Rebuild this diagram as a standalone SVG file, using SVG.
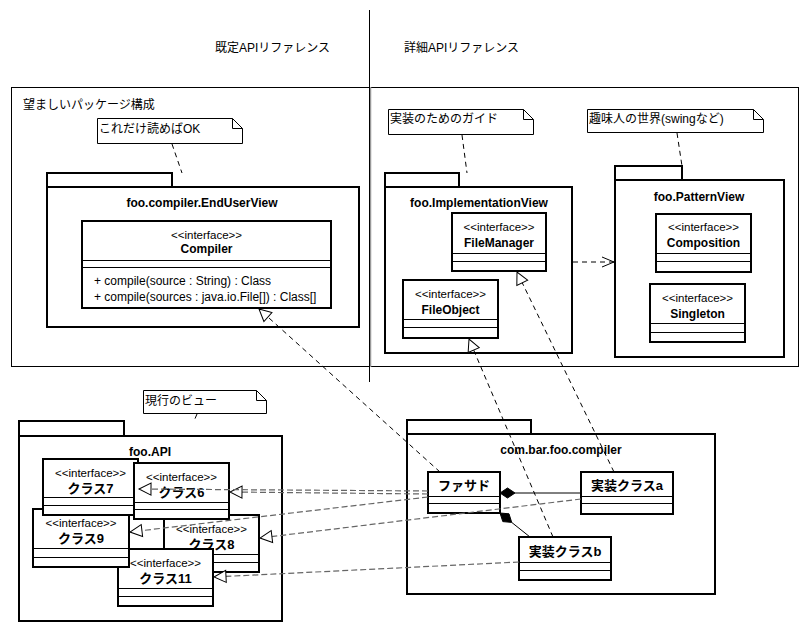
<svg xmlns="http://www.w3.org/2000/svg" width="807" height="632" viewBox="0 0 807 632">
<style>
text{font-family:"Liberation Sans","Noto Sans CJK JP",sans-serif;font-size:12px;fill:#000}
.box{fill:#fff;stroke:#000;stroke-width:2}
.pkg{fill:#fff;stroke:#000;stroke-width:2}
.sep{stroke:#000;stroke-width:1;fill:none}
.note{fill:#fff;stroke:#000;stroke-width:1}
.st{font-size:11.5px;text-anchor:middle}
.nm{font-weight:bold;text-anchor:middle}
.jn{font-weight:bold;font-size:13px;text-anchor:middle}
.dash{fill:none;stroke:#000;stroke-width:1;stroke-dasharray:5 4}
.g{stroke:#666;stroke-width:1.2;stroke-dasharray:6 3}
.solid{fill:none;stroke:#000;stroke-width:1}
</style>
<defs>
<marker id="tri" markerUnits="userSpaceOnUse" markerWidth="16" markerHeight="16" refX="14" refY="8" orient="auto" overflow="visible">
<path d="M2,2 L14,8 L2,14 Z" fill="#fff" stroke="#000" stroke-width="1"/>
</marker>
<marker id="open" markerUnits="userSpaceOnUse" markerWidth="16" markerHeight="16" refX="14" refY="8" orient="auto" overflow="visible">
<path d="M2,3 L14,8 L2,13" fill="none" stroke="#000" stroke-width="1"/>
</marker>
</defs>
<rect width="807" height="632" fill="#fff"/>

<g id="frame">
<rect x="11.5" y="87.5" width="787" height="279" fill="none" stroke="#000" stroke-width="1"/>
<line x1="370.5" y1="87" x2="370.5" y2="367" stroke="#999" stroke-width="1.5"/>
<line x1="369.5" y1="10" x2="369.5" y2="382" stroke="#000" stroke-width="1"/>
<text x="215" y="52">既定APIリファレンス</text>
<text x="404" y="52">詳細APIリファレンス</text>
<text x="23" y="109">望ましいパッケージ構成</text>
</g>

<g id="note-ok">
<path class="note" d="M97.5,118.5 H232.5 L242.5,128.5 V143.5 H97.5 Z"/>
<path class="solid" d="M232.5,118.5 V128.5 H242.5"/>
<text x="99" y="133">これだけ読めばOK</text>
</g>

<g id="pkg-enduser">
<rect class="pkg" x="47" y="173" width="125" height="14"/>
<rect class="pkg" x="47" y="187" width="312" height="140"/>
<text class="nm" x="202" y="207">foo.compiler.EndUserView</text>
</g>

<g id="cls-compiler">
<rect class="box" x="82" y="221" width="249" height="87"/>
<line class="sep" x1="82" y1="260.5" x2="331" y2="260.5"/>
<line class="sep" x1="82" y1="267.5" x2="331" y2="267.5"/>
<text class="st" x="206.5" y="239">&lt;&lt;interface&gt;&gt;</text>
<text class="nm" x="206.5" y="253">Compiler</text>
<text x="94" y="285">+ compile(source : String) : Class</text>
<text x="94" y="301">+ compile(sources : java.io.File[]) : Class[]</text>
</g>

<g id="note-impl">
<path class="note" d="M388.5,109.5 H523.5 L533.5,119.5 V134.5 H388.5 Z"/>
<path class="solid" d="M523.5,109.5 V119.5 H533.5"/>
<text x="390" y="123">実装のためのガイド</text>
</g>

<g id="pkg-impl">
<rect class="pkg" x="385" y="173" width="74" height="14"/>
<rect class="pkg" x="385" y="187" width="187" height="166"/>
<text class="nm" x="479" y="207">foo.ImplementationView</text>
</g>

<g id="cls-filemanager">
<rect class="box" x="452" y="213" width="94" height="58"/>
<line class="sep" x1="452" y1="253.5" x2="546" y2="253.5"/>
<line class="sep" x1="452" y1="261.5" x2="546" y2="261.5"/>
<text class="st" x="499" y="231">&lt;&lt;interface&gt;&gt;</text>
<text class="nm" x="499" y="247">FileManager</text>
</g>

<g id="cls-fileobject">
<rect class="box" x="403" y="280" width="95" height="58"/>
<line class="sep" x1="403" y1="319.5" x2="498" y2="319.5"/>
<line class="sep" x1="403" y1="327.5" x2="498" y2="327.5"/>
<text class="st" x="450.5" y="298">&lt;&lt;interface&gt;&gt;</text>
<text class="nm" x="450.5" y="314">FileObject</text>
</g>

<g id="note-pattern">
<path class="note" d="M587.5,109.5 H753.5 L763.5,119.5 V132.5 H587.5 Z"/>
<path class="solid" d="M753.5,109.5 V119.5 H763.5"/>
<text x="589" y="123">趣味人の世界(swingなど)</text>
</g>

<g id="pkg-pattern">
<rect class="pkg" x="615" y="166" width="67" height="14"/>
<rect class="pkg" x="615" y="180" width="169" height="177"/>
<text class="nm" x="699" y="201">foo.PatternView</text>
</g>

<g id="cls-composition">
<rect class="box" x="656" y="214" width="95" height="58"/>
<line class="sep" x1="656" y1="253.5" x2="751" y2="253.5"/>
<line class="sep" x1="656" y1="261.5" x2="751" y2="261.5"/>
<text class="st" x="703.5" y="231">&lt;&lt;interface&gt;&gt;</text>
<text class="nm" x="703.5" y="247">Composition</text>
</g>

<g id="cls-singleton">
<rect class="box" x="650" y="284" width="95" height="58"/>
<line class="sep" x1="650" y1="323.5" x2="745" y2="323.5"/>
<line class="sep" x1="650" y1="332.5" x2="745" y2="332.5"/>
<text class="st" x="697.5" y="302">&lt;&lt;interface&gt;&gt;</text>
<text class="nm" x="697.5" y="318">Singleton</text>
</g>

<g id="note-current">
<path class="note" d="M143.5,390.5 H256.5 L266.5,400.5 V413.5 H143.5 Z"/>
<path class="solid" d="M256.5,390.5 V400.5 H266.5"/>
<text x="145" y="405">現行のビュー</text>
</g>

<g id="pkg-api">
<rect class="pkg" x="19" y="421" width="105" height="15"/>
<rect class="pkg" x="19" y="436" width="263" height="185"/>
<text class="nm" x="150" y="456">foo.API</text>
</g>

<g id="cls-8">
<rect class="box" x="164" y="515" width="95" height="57"/>
<line class="sep" x1="164" y1="554.5" x2="259" y2="554.5"/>
<line class="sep" x1="164" y1="562.5" x2="259" y2="562.5"/>
<text class="st" x="211.5" y="533">&lt;&lt;interface&gt;&gt;</text>
<text class="jn" x="211.5" y="549">クラス8</text>
</g>

<g id="cls-11">
<rect class="box" x="118" y="549" width="95" height="57"/>
<line class="sep" x1="118" y1="588.5" x2="213" y2="588.5"/>
<line class="sep" x1="118" y1="596.5" x2="213" y2="596.5"/>
<text class="st" x="165.5" y="567">&lt;&lt;interface&gt;&gt;</text>
<text class="jn" x="165.5" y="583">クラス11</text>
</g>

<g id="cls-9">
<rect class="box" x="33" y="509" width="96" height="58"/>
<line class="sep" x1="33" y1="548.5" x2="129" y2="548.5"/>
<line class="sep" x1="33" y1="557.5" x2="129" y2="557.5"/>
<text class="st" x="81" y="527">&lt;&lt;interface&gt;&gt;</text>
<text class="jn" x="81" y="543">クラス9</text>
</g>

<g id="cls-7">
<rect class="box" x="43" y="459" width="95" height="56"/>
<line class="sep" x1="43" y1="497.5" x2="138" y2="497.5"/>
<line class="sep" x1="43" y1="505.5" x2="138" y2="505.5"/>
<text class="st" x="90.5" y="477">&lt;&lt;interface&gt;&gt;</text>
<text class="jn" x="90.5" y="493">クラス7</text>
</g>

<g id="cls-6">
<rect class="box" x="134" y="463" width="95" height="56"/>
<line class="sep" x1="134" y1="502.5" x2="229" y2="502.5"/>
<line class="sep" x1="134" y1="509.5" x2="229" y2="509.5"/>
<text class="st" x="181.5" y="481">&lt;&lt;interface&gt;&gt;</text>
<text class="jn" x="181.5" y="497">クラス6</text>
</g>

<g id="pkg-combar">
<rect class="pkg" x="407" y="420" width="124" height="14"/>
<rect class="pkg" x="407" y="434" width="308" height="160"/>
<text class="nm" x="561" y="454">com.bar.foo.compiler</text>
</g>

<g id="cls-facade">
<rect class="box" x="428" y="472" width="72" height="41"/>
<line class="sep" x1="428" y1="496.5" x2="500" y2="496.5"/>
<line class="sep" x1="428" y1="503.5" x2="500" y2="503.5"/>
<text class="jn" x="464" y="490">ファサド</text>
</g>

<g id="cls-impl-a">
<rect class="box" x="581" y="472" width="92" height="42"/>
<line class="sep" x1="581" y1="496.5" x2="673" y2="496.5"/>
<line class="sep" x1="581" y1="503.5" x2="673" y2="503.5"/>
<text class="jn" x="627" y="490">実装クラスa</text>
</g>

<g id="cls-impl-b">
<rect class="box" x="519" y="537" width="92" height="43"/>
<line class="sep" x1="519" y1="562.5" x2="611" y2="562.5"/>
<line class="sep" x1="519" y1="570.5" x2="611" y2="570.5"/>
<text class="jn" x="565" y="556">実装クラスb</text>
</g>

<g id="connectors">
<line class="dash" x1="172" y1="144" x2="182" y2="173"/>
<line class="dash" x1="462" y1="135" x2="467" y2="173"/>
<line class="dash" x1="677" y1="133" x2="682" y2="166"/>
<line class="dash" x1="197" y1="414" x2="194" y2="421"/>
<line class="dash" x1="573" y1="262" x2="614" y2="262" marker-end="url(#open)"/>
<line class="dash" x1="440" y1="472" x2="259" y2="309" marker-end="url(#tri)"/>
<line class="dash" x1="553" y1="537" x2="469" y2="339" marker-end="url(#tri)"/>
<line class="dash" x1="614" y1="472" x2="517" y2="272" marker-end="url(#tri)"/>
<line class="dash g" x1="428" y1="494" x2="230" y2="492" marker-end="url(#tri)"/>
<line class="dash g" x1="428" y1="491" x2="139" y2="489" marker-end="url(#tri)"/>
<line class="dash g" x1="428" y1="497" x2="130" y2="532" marker-end="url(#tri)"/>
<line class="dash g" x1="581" y1="499" x2="260" y2="538" marker-end="url(#tri)"/>
<line class="dash g" x1="519" y1="562" x2="214" y2="577" marker-end="url(#tri)"/>
<line class="solid" x1="515" y1="493" x2="581" y2="493"/>
<polygon points="500,493 507.5,488 515,493 507.5,498" fill="#000" stroke="#000" stroke-width="1"/>
<line class="solid" x1="511.7" y1="522.4" x2="530" y2="537"/>
<polygon points="500,513 502.8,521.6 511.7,522.4 509,513.8" fill="#000" stroke="#000" stroke-width="1"/>
</g>
</svg>
